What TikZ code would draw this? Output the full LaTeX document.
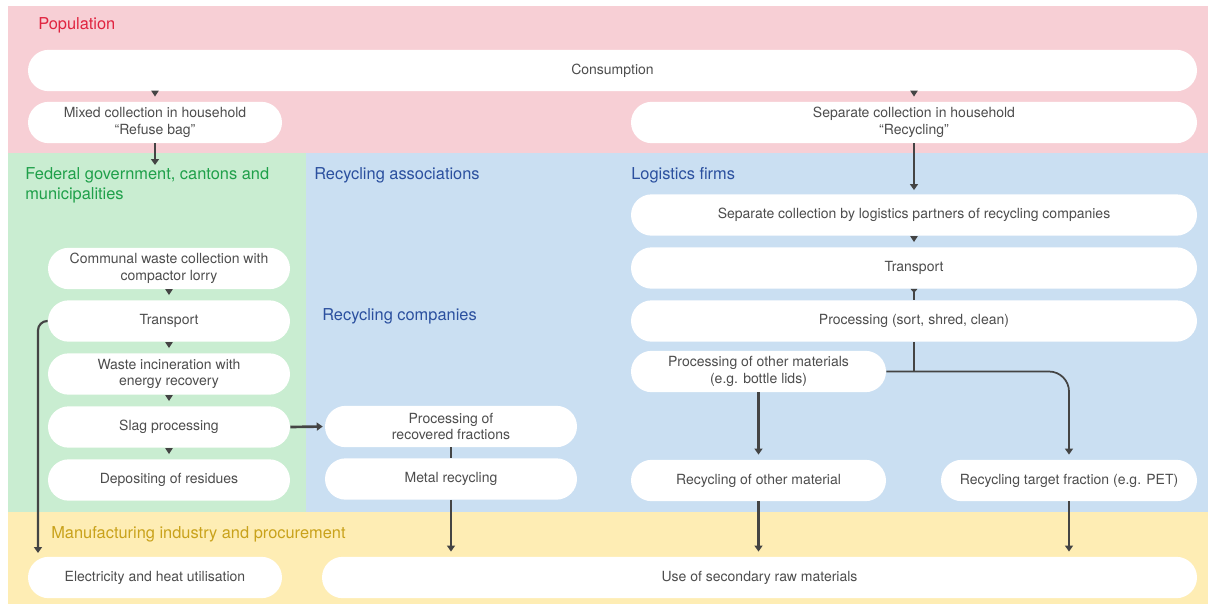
\documentclass[tikz,border=0pt]{standalone}
\usepackage{fontspec}
\setmainfont{TeX Gyre Heros}
\usetikzlibrary{arrows.meta}

\definecolor{popbg}{HTML}{F7CFD5}
\definecolor{govbg}{HTML}{C9EDD1}
\definecolor{recbg}{HTML}{CADFF2}
\definecolor{indbg}{HTML}{FEEDB4}
\definecolor{poptxt}{HTML}{E0233F}
\definecolor{govtxt}{HTML}{1FA04A}
\definecolor{rectxt}{HTML}{2B509F}
\definecolor{indtxt}{HTML}{C9A21B}
\definecolor{boxtxt}{HTML}{4D4D4D}
\definecolor{linegray}{HTML}{444444}

\tikzset{
  pill/.style={fill=white, rounded corners=15.5pt, minimum height=31pt,
    inner sep=0pt, align=center, text=boxtxt,
    font=\fontsize{10.5}{12.6}\selectfont},
  area/.style={font=\fontsize{12.3}{15}\selectfont, anchor=base west, align=left, inner sep=0pt},
  flow/.style={draw=linegray, line width=2pt, -{Triangle[length=4.5pt,width=6pt]}},
  stub/.style={draw=linegray, line width=1pt, -{Triangle[length=4.5pt,width=5.5pt]}, shorten >=3.75pt},
  branch/.style={draw=linegray, line width=1.3pt},
}

\begin{document}
\begin{tikzpicture}[x=0.75pt, y=-0.75pt]
\useasboundingbox (0,0) rectangle (1208,604);

% coloured areas
\fill[popbg] (8,6) rectangle (1208,153);
\fill[govbg] (8,153) rectangle (306,512);
\fill[recbg] (306,153) rectangle (1208,512);
\fill[indbg] (8,512) rectangle (1208,604);

% area titles
\node[area, text=poptxt] (tpop) at (38,29) {Population};
\node[area, text=govtxt] (tgov) at (25,199) {Federal government, cantons and\\municipalities};
\node[area, text=rectxt] (tass) at (314,179) {Recycling associations};
\node[area, text=rectxt] (tlog) at (631,179) {Logistics firms};
\node[area, text=rectxt] (tcom) at (322,320) {Recycling companies};
\node[area, text=indtxt] (tind) at (51,538) {Manufacturing industry and procurement};

% population
\node[pill, minimum width=876.75pt] (cons) at (612.5,70.5) {Consumption};
\node[pill, minimum width=190.5pt] (mixed) at (155,122.5) {Mixed collection in household\\“Refuse bag”};
\node[pill, minimum width=424.5pt] (sephh) at (914,122.5) {Separate collection in household\\“Recycling”};

% federal government, cantons and municipalities
\node[pill, minimum width=181.5pt] (communal) at (169,268.5) {Communal waste collection with\\compactor lorry};
\node[pill, minimum width=181.5pt] (transL) at (169,321) {Transport};
\node[pill, minimum width=181.5pt] (incin) at (169,374) {Waste incineration with\\energy recovery};
\node[pill, minimum width=181.5pt] (slag) at (169,427) {Slag processing};
\node[pill, minimum width=181.5pt] (depo) at (169,480) {Depositing of residues};

% recycling companies
\node[pill, minimum width=189pt] (procRec) at (451,426.5) {Processing of\\recovered fractions};
\node[pill, minimum width=189pt] (metal) at (451,479) {Metal recycling};

% logistics firms
\node[pill, minimum width=424.5pt] (seplog) at (914,215) {Separate collection by logistics partners of recycling companies};
\node[pill, minimum width=424.5pt] (transR) at (914,268) {Transport};
\node[pill, minimum width=424.5pt] (procR) at (914,321) {Processing (sort, shred, clean)};
\node[pill, minimum width=191.25pt] (procOther) at (758.5,371.5) {Processing of other materials\\(e.g. bottle lids)};
\node[pill, minimum width=191.25pt] (recOther) at (758.5,480.5) {Recycling of other material};
\node[pill, minimum width=192pt] (recTarget) at (1069,480.5) {Recycling target fraction (e.g. PET)};

% manufacturing industry and procurement
\node[pill, minimum width=190.5pt] (elec) at (155,577.5) {Electricity and heat utilisation};
\node[pill, minimum width=656.25pt] (use) at (759.5,577.5) {Use of secondary raw materials};

% free ends
\coordinate (govin) at (155,165);
\coordinate (elecin) at (38,553);

% connectors
\draw[stub] (cons.south -| mixed) -- (mixed.north);
\draw[stub] (cons.south -| sephh) -- (sephh.north);
\draw[flow] (mixed.south) -- (govin);
\draw[flow, shorten >=3pt] (sephh.south) -- (seplog.north);

\draw[stub] (communal.south) -- (transL.north);
\draw[stub] (transL.south) -- (incin.north);
\draw[stub] (incin.south) -- (slag.north);
\draw[stub] (slag.south) -- (depo.north);
\draw[flow, line width=1.6pt, rounded corners=7pt] (transL.west) -| (elecin);
\draw[flow, shorten >=1.5pt] (slag.east) -- (procRec.west);

\draw[draw=linegray, line width=2pt] (procRec.south) -- (metal.north);
\draw[flow, shorten >=3.75pt] (metal.south) -- (metal.south |- use.north);

\draw[stub] (seplog.south) -- (transR.north);
\draw[draw=linegray, line width=1pt, {Triangle[reversed,length=3pt,width=5pt]}-] (transR.south) -- (procR.north);
\draw[branch] (procR.south) -- (procR.south |- procOther.east);
\draw[branch, rounded corners=15pt, -{Triangle[length=4.5pt,width=6pt]}, shorten >=3.75pt]
  (procOther.east) -| (recTarget.north);
\draw[flow, shorten >=3.75pt] (procOther.south) -- (recOther.north);
\draw[flow, shorten >=3.75pt] (recOther.south) -- (recOther.south |- use.north);
\draw[flow, shorten >=3.75pt] (recTarget.south) -- (recTarget.south |- use.north);
\end{tikzpicture}
\end{document}
